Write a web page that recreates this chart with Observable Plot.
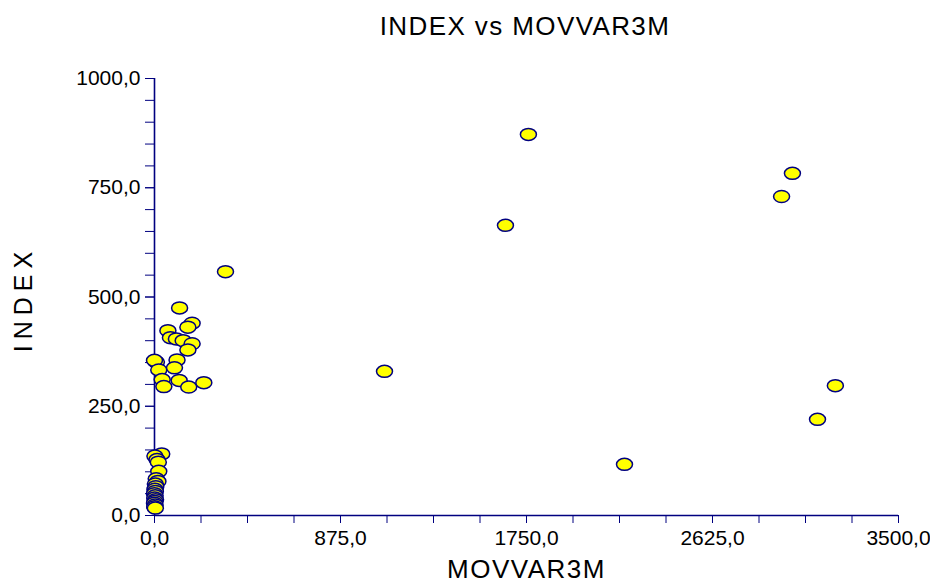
<!DOCTYPE html>
<html><head><meta charset="utf-8">
<script src="https://cdn.jsdelivr.net/npm/d3@7"></script>
<script src="https://cdn.jsdelivr.net/npm/@observablehq/plot@0.6"></script>
<style>
body{margin:0;background:#fff;font-family:"Liberation Sans",Arial,sans-serif;}
#wrap{position:relative;width:930px;height:584px;}
#title{position:absolute;left:525px;top:13px;transform:translateX(-50%);font-size:26px;line-height:26px;letter-spacing:1.4px;white-space:nowrap;color:#000;}
#chart{position:absolute;left:0;top:40px;}
</style></head><body>
<div id="wrap"><div id="title">INDEX vs MOVVAR3M</div><div id="chart"></div></div>
<script>
// MOVVAR3M values (x)
const movvar3m = [
  1759, 3001, 2950, 1651, 334, 1082, 3203, 3119, 2211,
  118, 177, 157, 63, 75, 103, 135, 177, 157, 106, 94, 9, 0, 20, 36, 44, 116, 161, 232,
  34, 2, 12, 18, 20, 8, 16, 4, 6, 2, 4, 0, 3, 1, 5, 2, 0, 3, 1, 4
];
// INDEX values (y)
const indexVals = [
  872, 783, 730, 664, 558, 330, 297, 220, 117,
  475, 440, 431, 423, 407, 404, 400, 393, 379, 356, 338, 351, 355, 333, 311, 295, 309, 294, 304,
  141, 136, 128, 122, 101, 84, 78, 72, 66, 60, 55, 50, 45, 40, 36, 32, 28, 24, 20, 17
];
const xTicks = [0, 875, 1750, 2625, 3500];
const xMinorTicks = [0, 218.75, 437.5, 656.25, 875, 1093.75, 1312.5, 1531.25, 1750, 1968.75, 2187.5, 2406.25, 2625, 2843.75, 3062.5, 3281.25, 3500];
const yTicks = [0, 250, 500, 750, 1000];
const yMinorTicks = [0, 50, 100, 150, 200, 250, 300, 350, 400, 450, 500, 550, 600, 650, 700, 750, 800, 850, 900, 950, 1000];

const data = movvar3m.map((x, i) => ({x, y: indexVals[i]}));
const fmt = d => d.toFixed(1).replace(".", ",");
const navy = "#000080";

const ellipse = {
  draw(ctx) {
    const rx = 8, ry = 6, k = 0.5523;
    ctx.moveTo(-rx, 0);
    ctx.bezierCurveTo(-rx, -ry * k, -rx * k, -ry, 0, -ry);
    ctx.bezierCurveTo(rx * k, -ry, rx, -ry * k, rx, 0);
    ctx.bezierCurveTo(rx, ry * k, rx * k, ry, 0, ry);
    ctx.bezierCurveTo(-rx * k, ry, -rx, ry * k, -rx, 0);
    ctx.closePath();
  }
};

const chart = Plot.plot({
  width: 930,
  height: 544,
  marginTop: 38,
  marginBottom: 69,
  marginLeft: 154,
  marginRight: 32,
  style: {fontFamily: "Liberation Sans, Arial, sans-serif", fontSize: "21px", color: "black", background: "white", overflow: "visible"},
  x: {domain: [0, 3500], label: null},
  y: {domain: [0, 1000], label: null},
  marks: [
    Plot.axisX(xMinorTicks, {tickFormat: () => "", tickSize: 8, stroke: navy, label: null}),
    Plot.axisX(xTicks, {tickFormat: fmt, tickSize: 8, tickPadding: 7, stroke: navy, fill: "black", fontSize: 21, label: null}),
    Plot.axisY(yMinorTicks, {tickFormat: () => "", tickSize: 9, stroke: navy, label: null}),
    Plot.axisY(yTicks, {tickFormat: fmt, tickSize: 9, tickPadding: 5, stroke: navy, fill: "black", fontSize: 21, label: null}),
    Plot.ruleY([0], {stroke: navy, strokeWidth: 1.6}),
    Plot.ruleX([0], {stroke: navy, strokeWidth: 1.6}),
    Plot.dot(data, {x: "x", y: "y", symbol: ellipse, fill: "#ffff00", stroke: navy, strokeWidth: 1.5}),
    Plot.text(["MOVVAR3M"], {text: d => d, frameAnchor: "bottom", lineAnchor: "middle", textAnchor: "middle", dy: 54, fontSize: 26, fill: "black"}),
    Plot.text(["INDEX"], {text: d => d, frameAnchor: "left", lineAnchor: "middle", textAnchor: "middle", dx: -131, dy: 2, rotate: -90, fontSize: 25, fill: "black"})
  ]
});
d3.select(chart).selectAll("text").each(function() {
  const t = d3.select(this);
  if (t.text() === "INDEX") t.style("letter-spacing", "6px");
  if (t.text() === "MOVVAR3M") t.style("letter-spacing", "1.5px");
});
document.getElementById("chart").appendChild(chart);
</script>
</body></html>
